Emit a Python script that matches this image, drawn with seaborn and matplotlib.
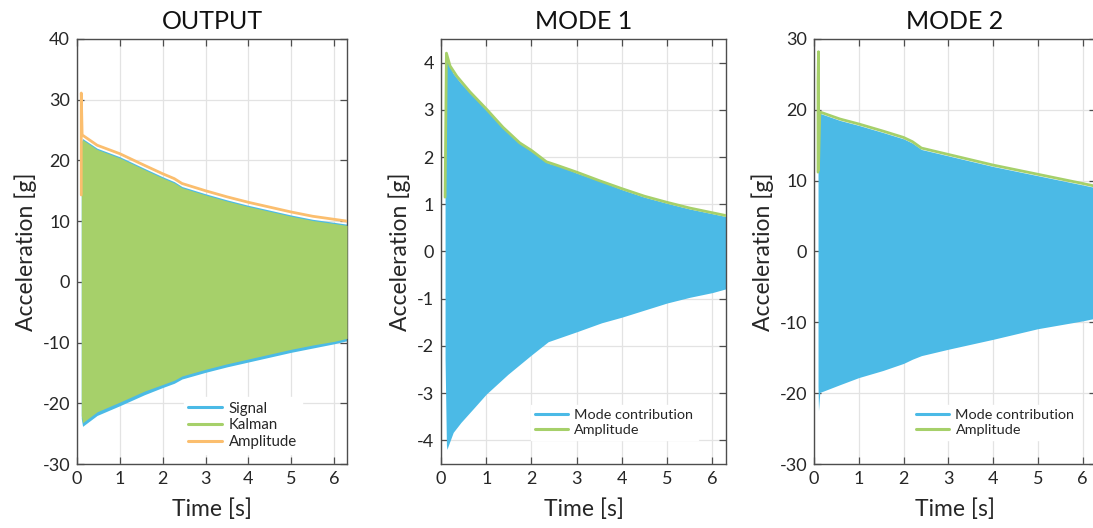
import numpy as np
import pandas as pd
import matplotlib
matplotlib.use("Agg")
import matplotlib.pyplot as plt
from matplotlib.lines import Line2D
import seaborn as sns

# ---------------- data ----------------
# OUTPUT panel: amplitude (upper envelope, orange)
out_amp_t = [0.10, 0.10, 0.12, 0.47, 1.0, 1.57, 2.0, 2.27, 2.45, 3.0, 3.5, 4.0, 4.5, 5.0, 5.5, 6.0, 6.3]
out_amp_v = [14.3, 31.1, 24.2, 22.5, 21.1, 19.2, 17.8, 17.0, 16.2, 15.0, 14.0, 13.1, 12.3, 11.5, 10.8, 10.3, 10.0]
# signal (blue) envelope
out_sig_t = [0.10, 0.13, 0.47, 1.0, 1.57, 2.0, 2.27, 2.45, 3.0, 3.5, 4.0, 4.5, 5.0, 5.5, 6.0, 6.3]
out_sig_hi = [23.0, 23.6, 22.0, 20.6, 18.7, 17.3, 16.5, 15.7, 14.5, 13.5, 12.6, 11.8, 11.0, 10.3, 9.8, 9.5]
out_sig_lo = [-22.5, -23.8, -22.0, -20.4, -18.6, -17.4, -16.7, -16.0, -14.9, -14.0, -13.2, -12.4, -11.6, -10.9, -10.2, -9.7]
# Kalman (green) envelope
out_kal_hi = [22.8, 23.4, 21.8, 20.4, 18.5, 17.1, 16.3, 15.5, 14.3, 13.3, 12.4, 11.6, 10.8, 10.1, 9.6, 9.3]
out_kal_lo = [-22.0, -23.2, -21.4, -19.8, -18.0, -16.9, -16.2, -15.5, -14.4, -13.5, -12.7, -11.9, -11.1, -10.4, -9.8, -9.3]

# MODE 1
m1_amp_t = [0.09, 0.12, 0.2, 0.35, 0.64, 1.0, 1.37, 1.74, 2.0, 2.33, 2.55, 3.0, 3.5, 4.0, 4.5, 5.0, 5.5, 6.0, 6.3]
m1_amp_v = [1.15, 4.20, 3.93, 3.71, 3.38, 3.02, 2.63, 2.30, 2.14, 1.90, 1.83, 1.68, 1.50, 1.33, 1.17, 1.04, 0.92, 0.82, 0.76]
m1_sig_t = [0.09, 0.12, 0.13, 0.27, 0.44, 0.74, 1.0, 1.48, 2.0, 2.37, 2.67, 3.0, 3.55, 4.0, 4.5, 5.0, 5.5, 6.0, 6.3]
m1_sig_hi = [3.85, 4.12, 4.05, 3.77, 3.56, 3.27, 3.00, 2.52, 2.12, 1.87, 1.79, 1.66, 1.48, 1.31, 1.15, 1.02, 0.90, 0.80, 0.74]
m1_sig_lo = [-2.26, -4.10, -4.19, -3.83, -3.62, -3.30, -3.02, -2.60, -2.19, -1.91, -1.81, -1.70, -1.51, -1.39, -1.24, -1.09, -0.97, -0.87, -0.79]

# MODE 2
m2_amp_t = [0.09, 0.09, 0.10, 0.10, 0.13, 0.58, 1.0, 1.54, 2.0, 2.2, 2.4, 3.0, 4.0, 5.0, 6.0, 6.3]
m2_amp_v = [11.2, 24.0, 28.2, 11.5, 19.7, 18.7, 18.0, 17.0, 16.1, 15.5, 14.6, 13.7, 12.2, 10.9, 9.6, 9.2]
m2_sig_t = [0.09, 0.10, 0.13, 0.58, 1.0, 1.54, 2.0, 2.2, 2.4, 3.0, 4.0, 5.0, 6.0, 6.3]
m2_sig_hi = [20.0, 20.5, 19.5, 18.5, 17.8, 16.8, 15.9, 15.3, 14.4, 13.5, 12.0, 10.7, 9.4, 9.0]
m2_sig_lo = [-19.0, -22.5, -19.9, -18.8, -17.8, -16.8, -15.8, -15.2, -14.7, -13.8, -12.4, -10.9, -9.8, -9.4]

x_ticks = [0, 1, 2, 3, 4, 5, 6]
titles = ["OUTPUT", "MODE 1", "MODE 2"]
xlabel = "Time [s]"
ylabel = "Acceleration [g]"

# ---------------- style ----------------
BLUE = "#4BBAE6"
GREEN = "#A6D06A"
ORANGE = "#FBBE6E"
TXT = "#262626"

sns.set_theme(style="whitegrid")
plt.rcParams["font.family"] = ["Lato", "DejaVu Sans"]
plt.rcParams["axes.unicode_minus"] = False

fig = plt.figure(figsize=(10.93, 5.28), dpi=100)
bottom, height = 0.1212, 0.805
axes = [
    fig.add_axes([77 / 1093, bottom, 270 / 1093, height]),
    fig.add_axes([441 / 1093, bottom, 285 / 1093, height]),
    fig.add_axes([814 / 1093, bottom, 282 / 1093, height]),
]

def style_axis(ax, title, yticks, ylim):
    ax.set_facecolor("white")
    ax.set_xlim(0, 6.3)
    ax.set_ylim(*ylim)
    ax.set_xticks(x_ticks)
    ax.set_yticks(yticks)
    ax.grid(True, color="#E3E3E3", linewidth=0.9)
    ax.set_axisbelow(True)
    for s in ax.spines.values():
        s.set_visible(True)
        s.set_color("#4D4D4D")
        s.set_linewidth(1.0)
    ax.tick_params(direction="in", length=5, width=0.9, colors="#4D4D4D",
                   labelcolor=TXT, labelsize=13, top=True, right=True,
                   bottom=True, left=True, pad=5)
    ax.set_title(title, fontsize=18, color="#111111", pad=7)
    ax.set_xlabel(xlabel, fontsize=16.5, color=TXT, labelpad=8)
    ax.set_ylabel(ylabel, fontsize=16.5, color=TXT, labelpad=4)

def add_legend(ax, colors, labels, anchor, fs):
    handles = [Line2D([], [], color=c, lw=2.2) for c in colors]
    leg = ax.legend(handles, labels, loc="center left", bbox_to_anchor=anchor,
                    borderaxespad=0, fontsize=fs, frameon=True,
                    edgecolor="white", framealpha=1, fancybox=False,
                    handlelength=2.25, labelspacing=0.18, borderpad=0.3,
                    handletextpad=0.45)
    for t in leg.get_texts():
        t.set_color(TXT)

# ---- OUTPUT ----
ax = axes[0]
ax.fill_between(out_sig_t, out_sig_lo, out_sig_hi, color=BLUE, linewidth=0, zorder=2)
ax.fill_between(out_sig_t, out_kal_lo, out_kal_hi, color=GREEN, linewidth=0, zorder=3)
df = pd.DataFrame({"t": out_amp_t, "v": out_amp_v})
sns.lineplot(data=df, x="t", y="v", ax=ax, color=ORANGE, linewidth=2.0,
             estimator=None, sort=False, zorder=4)
style_axis(ax, titles[0], [-30, -20, -10, 0, 10, 20, 30, 40], (-30, 40))
add_legend(ax, [BLUE, GREEN, ORANGE], ["Signal", "Kalman", "Amplitude"], (0.396, 0.091), 10.8)

# ---- MODE 1 ----
ax = axes[1]
ax.fill_between(m1_sig_t, m1_sig_lo, m1_sig_hi, color=BLUE, linewidth=0, zorder=2)
df = pd.DataFrame({"t": m1_amp_t, "v": m1_amp_v})
sns.lineplot(data=df, x="t", y="v", ax=ax, color=GREEN, linewidth=2.0,
             estimator=None, sort=False, zorder=4)
style_axis(ax, titles[1], [-4, -3, -2, -1, 0, 1, 2, 3, 4], (-4.5, 4.5))
add_legend(ax, [BLUE, GREEN], ["Mode contribution", "Amplitude"], (0.316, 0.0976), 10.4)

# ---- MODE 2 ----
ax = axes[2]
ax.fill_between(m2_sig_t, m2_sig_lo, m2_sig_hi, color=BLUE, linewidth=0, zorder=2)
df = pd.DataFrame({"t": m2_amp_t, "v": m2_amp_v})
sns.lineplot(data=df, x="t", y="v", ax=ax, color=GREEN, linewidth=2.0,
             estimator=None, sort=False, zorder=4)
style_axis(ax, titles[2], [-30, -20, -10, 0, 10, 20, 30], (-30, 30))
add_legend(ax, [BLUE, GREEN], ["Mode contribution", "Amplitude"], (0.348, 0.0976), 10.4)

fig.savefig("out.png", dpi=100, facecolor="white")
